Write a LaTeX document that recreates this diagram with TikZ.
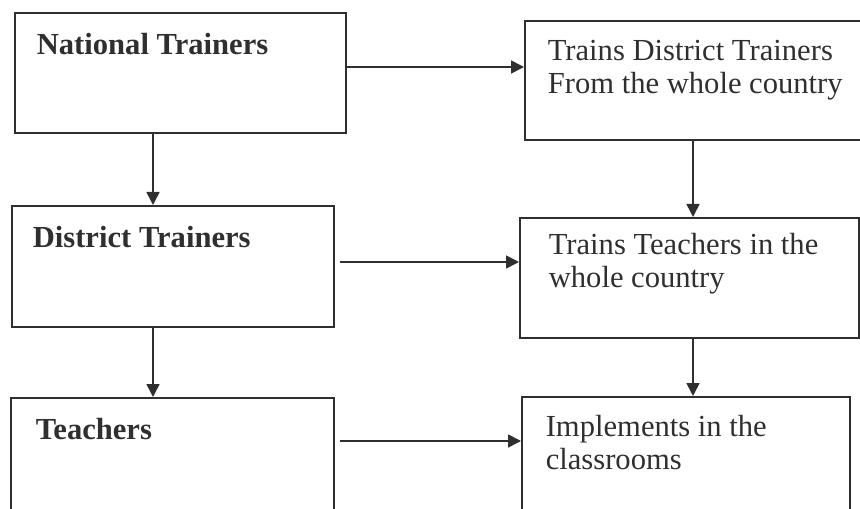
\documentclass[tikz,border=0pt]{standalone}
\usepackage{fontspec}
\setmainfont{Liberation Serif}
\usetikzlibrary{positioning,arrows.meta}
\definecolor{ink}{HTML}{2F2F2F}

\begin{document}
\begin{tikzpicture}[x=1bp, y=-1bp,
  inkline/.style={draw=ink, line width=1.6bp},
  stagebox/.style={inkline, rectangle, anchor=north west, inner ysep=0pt, text=ink,
    font=\fontsize{30.6bp}{32.5bp}\selectfont},
  rolebox/.style={stagebox, font=\fontsize{30.6bp}{32.5bp}\selectfont\bfseries},
  flow/.style={inkline, -{Triangle[length=13bp,width=13bp]}}]

\useasboundingbox (0,0) rectangle (860,509);
\clip (0,0) rectangle (860,509);

% Left column: who is trained
\node[rolebox, inner xsep=22bp] (nat) at (14,12)
  {\parbox[t][120bp][t]{287bp}{\vspace*{19.3bp}\strut National Trainers}};
\node[rolebox, inner xsep=21bp] (dist) at (11,205)
  {\parbox[t][121bp][t]{280bp}{\vspace*{19.3bp}\strut District Trainers}};
\node[rolebox, inner xsep=25bp] (teach) at (10,397)
  {\parbox[t][140bp][t]{273bp}{\vspace*{19.3bp}\strut Teachers}};

% Right column: what they do
\node[stagebox, inner xsep=23bp] (trainDT) at (524,20)
  {\parbox[t][119bp][t]{310bp}{\raggedright\vspace*{17.3bp}\strut Trains District Trainers\\ From the whole country}};
\node[stagebox, inner xsep=29bp] (trainT) at (519,217)
  {\parbox[t][120bp][t]{281bp}{\raggedright\vspace*{14.3bp}\strut Trains Teachers in the\\ whole country}};
\node[stagebox, inner xsep=24bp] (impl) at (521,396)
  {\parbox[t][140bp][t]{280bp}{\raggedright\vspace*{17.3bp}\strut Implements in the\\ classrooms}};

% Drop points of the vertical connectors
\coordinate (natdrop) at ([xshift=139bp]nat.south west);
\coordinate (distdrop) at ([xshift=142bp]dist.south west);
\coordinate (DTdrop) at ([xshift=169bp]trainDT.south west);
\coordinate (Tdrop) at ([xshift=174bp]trainT.south west);

% Start points of the horizontal connectors
\coordinate (natout) at ([yshift=-55bp]nat.north east);
\coordinate (distout) at ([xshift=5bp,yshift=-57bp]dist.north east);
\coordinate (teachout) at ([xshift=5bp,yshift=-44bp]teach.north east);

% Connections
\draw[flow] (natout) -- (natout -| trainDT.west);
\draw[flow] (distout) -- (distout -| trainT.west);
\draw[flow] (teachout) -- (teachout -| impl.west);

\draw[flow] (natdrop) -- (natdrop |- dist.north);
\draw[flow] (distdrop) -- (distdrop |- teach.north);
\draw[flow] (DTdrop) -- (DTdrop |- trainT.north);
\draw[flow] (Tdrop) -- (Tdrop |- impl.north);
\end{tikzpicture}
\end{document}
